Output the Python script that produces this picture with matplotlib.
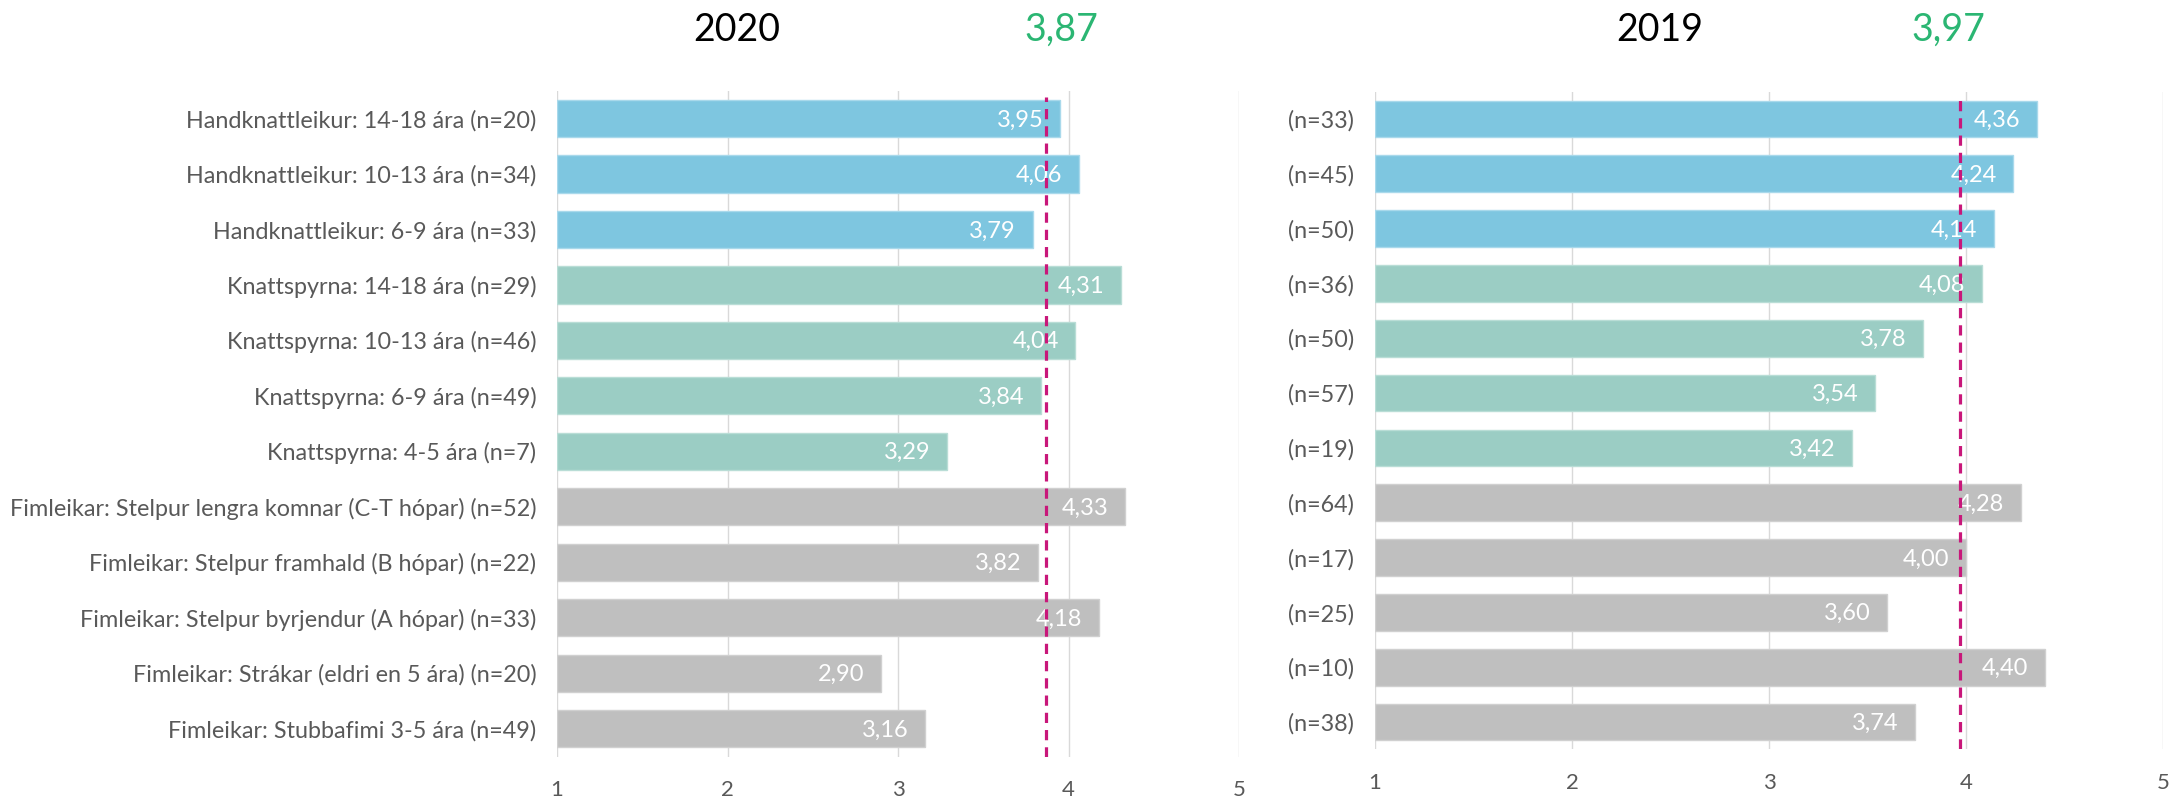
import numpy as np
import matplotlib
matplotlib.use("Agg")
import matplotlib.pyplot as plt

plt.rcParams['font.family'] = ['Lato', 'DejaVu Sans']

labels_2020 = [
    "Handknattleikur: 14-18 ára (n=20)",
    "Handknattleikur: 10-13 ára (n=34)",
    "Handknattleikur: 6-9 ára (n=33)",
    "Knattspyrna: 14-18 ára (n=29)",
    "Knattspyrna: 10-13 ára (n=46)",
    "Knattspyrna: 6-9 ára (n=49)",
    "Knattspyrna: 4-5 ára (n=7)",
    "Fimleikar: Stelpur lengra komnar (C-T hópar) (n=52)",
    "Fimleikar: Stelpur framhald (B hópar) (n=22)",
    "Fimleikar: Stelpur byrjendur (A hópar) (n=33)",
    "Fimleikar: Strákar (eldri en 5 ára) (n=20)",
    "Fimleikar: Stubbafimi 3-5 ára (n=49)",
]
values_2020 = [3.95, 4.06, 3.79, 4.31, 4.04, 3.84, 3.29, 4.33, 3.82, 4.18, 2.90, 3.16]
mean_2020 = 3.87

labels_2019 = ["(n=33)", "(n=45)", "(n=50)", "(n=36)", "(n=50)", "(n=57)",
               "(n=19)", "(n=64)", "(n=17)", "(n=25)", "(n=10)", "(n=38)"]
values_2019 = [4.36, 4.24, 4.14, 4.08, 3.78, 3.54, 3.42, 4.28, 4.00, 3.60, 4.40, 3.74]
mean_2019 = 3.97

groups = ["hand"] * 3 + ["fot"] * 4 + ["fim"] * 5
group_colors = {"hand": "#7EC6E0", "fot": "#9BCDC4", "fim": "#BFBFBF"}
edge_colors = {"hand": "#A9D9EB", "fot": "#B9DDD6", "fim": "#D0D0D0"}

W, H = 2172, 801
fig = plt.figure(figsize=(W / 100, H / 100), dpi=100)


def px_axes(x0, x1, y_top, y_bot):
    return fig.add_axes([x0 / W, 1 - y_bot / H, (x1 - x0) / W, (y_bot - y_top) / H])


def draw_panel(ax, labels, values, mean):
    y = np.arange(len(values))
    cols = [group_colors[g] for g in groups]
    ecols = [edge_colors[g] for g in groups]
    ax.barh(y, [v - 1 for v in values], left=1, height=0.67, color=cols,
            edgecolor=ecols, linewidth=1, zorder=2)
    for yi, v in zip(y, values):
        ax.annotate(f"{v:.2f}".replace(".", ","), (v, yi), xytext=(-12, -1),
                    textcoords="offset points", ha="right", va="center",
                    color="white", fontsize=17, zorder=4)
    ax.axvline(mean, color="#C8177A", lw=2.3, linestyle=(0, (3.2, 2.2)),
               ymin=0, ymax=0.99, zorder=5)
    ax.set_xlim(1, 5)
    ax.set_ylim(len(values) - 0.5, -0.5)
    ax.set_xticks([1, 2, 3, 4, 5])
    ax.set_yticks(y)
    ax.set_yticklabels(labels)
    ax.grid(axis="x", color="#D9D9D9", lw=1, zorder=0)
    ax.set_axisbelow(True)
    for s in ax.spines.values():
        s.set_visible(False)
    ax.tick_params(axis="both", length=0, colors="#595959")
    ax.tick_params(axis="y", pad=15, labelsize=16.8)
    ax.tick_params(axis="x", pad=17, labelsize=16)


ax1 = px_axes(557, 1239, 90.8, 756.5)
draw_panel(ax1, labels_2020, values_2020, mean_2020)
ax2 = px_axes(1375, 2163, 91.6, 749.4)
draw_panel(ax2, labels_2019, values_2019, mean_2019)

fig.text(737 / W, 1 - 41 / H, "2020", ha="center", va="baseline", fontsize=27, color="black")
fig.text(1061 / W, 1 - 41 / H, "3,87", ha="center", va="baseline", fontsize=27, color="#2BB673")
fig.text(1660 / W, 1 - 41 / H, "2019", ha="center", va="baseline", fontsize=27, color="black")
fig.text(1948 / W, 1 - 41 / H, "3,97", ha="center", va="baseline", fontsize=27, color="#2BB673")

fig.savefig("out.png", dpi=100, facecolor="white")
